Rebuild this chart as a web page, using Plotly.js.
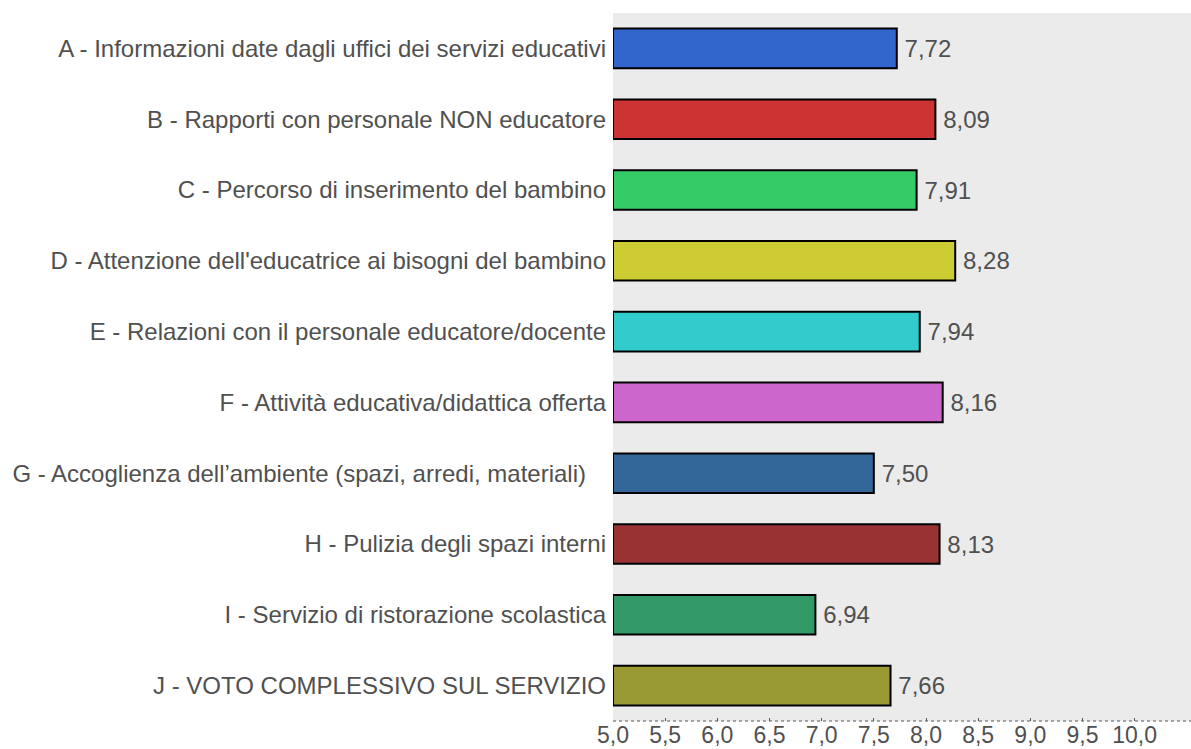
<!DOCTYPE html>
<html>
<head>
<meta charset="utf-8">
<script src="https://cdn.plot.ly/plotly-3.0.1.min.js"></script>
<style>html,body{margin:0;padding:0;background:#fff;}#chart{width:1191px;height:749px;}</style>
</head>
<body>
<div id="chart"></div>
<script>
const categories = [
  "A - Informazioni date dagli uffici dei servizi educativi",
  "B - Rapporti con personale NON educatore",
  "C - Percorso di inserimento del bambino",
  "D - Attenzione dell'educatrice ai bisogni del bambino",
  "E - Relazioni con il personale educatore/docente",
  "F - Attività educativa/didattica offerta",
  "G - Accoglienza dell’ambiente (spazi, arredi, materiali)\u00a0\u00a0\u00a0",
  "H - Pulizia degli spazi interni",
  "I - Servizio di ristorazione scolastica",
  "J - VOTO COMPLESSIVO SUL SERVIZIO"
];
const values = [7.72, 8.09, 7.91, 8.28, 7.94, 8.16, 7.50, 8.13, 6.94, 7.66];
const barColors = ["#3366cc","#cc3333","#33cc66","#cccc33","#33cccc","#cc66cc","#336699","#993333","#339966","#999933"];
const tickValues = [5,5.5,6,6.5,7,7.5,8,8.5,9,9.5,10];
const tickLabels = ["5,0","5,5","6,0","6,5","7,0","7,5","8,0","8,5","9,0","9,5","10,0"];
const axisStart = 5;

const trace = {
  type: "bar",
  orientation: "h",
  y: categories,
  x: values.map(v => v - axisStart),
  base: axisStart,
  marker: {color: barColors, line: {color: "#000", width: 2}},
  text: values.map(v => "\u2009" + v.toFixed(2).replace(".", ",")),
  textposition: "outside",
  textfont: {family: "Liberation Sans, Arial, sans-serif", size: 24, color: "#505050"},
  cliponaxis: false,
  hoverinfo: "none"
};

const layout = {
  width: 1191, height: 749,
  margin: {l: 613, r: 0, t: 13, b: 28, pad: 0},
  paper_bgcolor: "#ffffff",
  plot_bgcolor: "#ebebeb",
  bargap: 0.44,
  showlegend: false,
  font: {family: "Liberation Sans, Arial, sans-serif", size: 24, color: "#505050"},
  xaxis: {
    range: [5, 10.54],
    tickvals: tickValues,
    ticktext: tickLabels,
    showgrid: false,
    zeroline: false,
    showline: false,
    ticks: "inside",
    ticklen: 3,
    tickcolor: "#555",
    ticklabelstandoff: -2,
    tickfont: {size: 23, color: "#505050"},
    fixedrange: true
  },
  yaxis: {
    autorange: "reversed",
    showgrid: false,
    zeroline: false,
    ticks: "",
    ticklabelstandoff: 6,
    tickfont: {size: 24, color: "#505050"},
    fixedrange: true
  },
  shapes: [{
    type: "line", xref: "paper", yref: "paper",
    x0: 0, x1: 1, y0: 0, y1: 0,
    line: {color: "#555", width: 1, dash: "dot"}
  }]
};
Plotly.newPlot("chart", [trace], layout, {displayModeBar: false, staticPlot: true});
</script>
</body>
</html>
